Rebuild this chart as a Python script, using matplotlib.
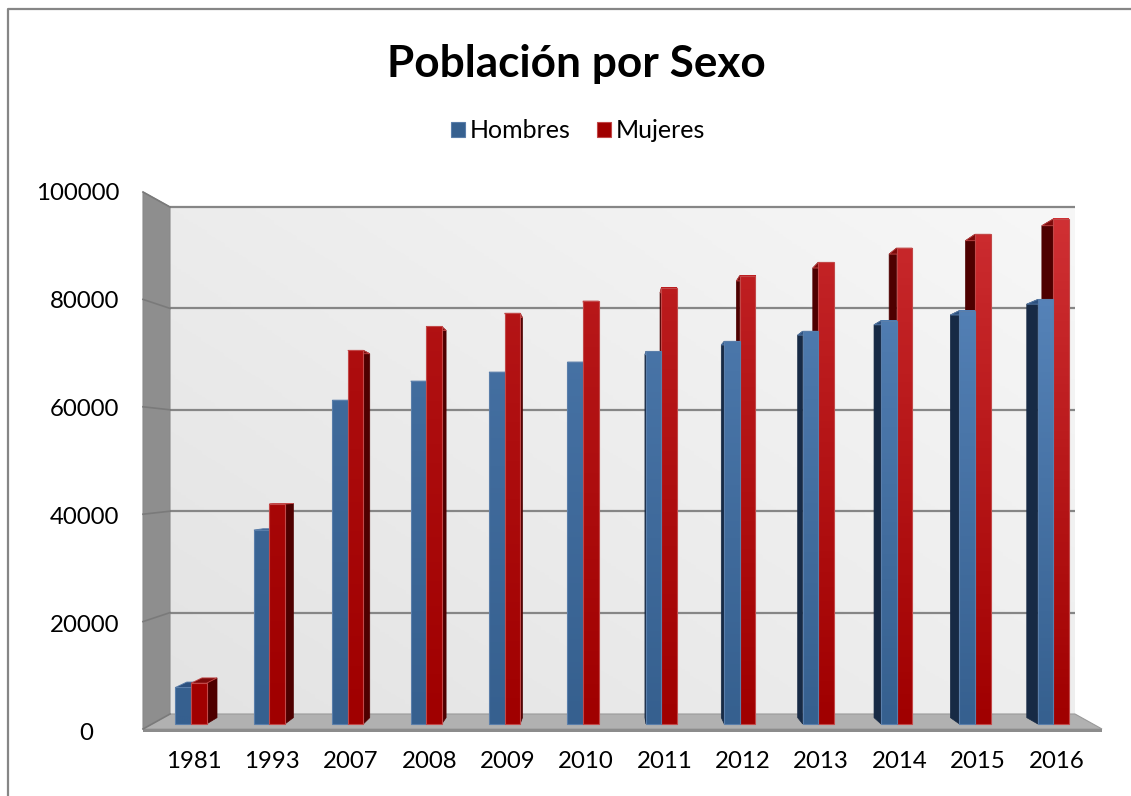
import numpy as np
import matplotlib
matplotlib.use("Agg")
import matplotlib.pyplot as plt
from matplotlib.patches import Polygon, Patch
from matplotlib.colors import LinearSegmentedColormap
import matplotlib.transforms as mtransforms

plt.rcParams['font.family'] = ['Lato', 'DejaVu Sans']

# ---------------- data ----------------
years = ['1981', '1993', '2007', '2008', '2009', '2010', '2011', '2012', '2013', '2014', '2015', '2016']
hombres = [6900, 36600, 61100, 64700, 66400, 68300, 70300, 72200, 74100, 76100, 78000, 80100]
mujeres = [7700, 41500, 70500, 75000, 77500, 79800, 82300, 84600, 87100, 89800, 92400, 95300]
series_names = ['Hombres', 'Mujeres']
y_ticks = [0, 20000, 40000, 60000, 80000, 100000]
title = 'Población por Sexo'

# ---------------- layout (pixels) ----------------
W, H = 1131, 796
PX0, DX = 191.0, 78.4          # pixel x of first category centre, px per category
PY0, SY = 724.0, 5.30          # pixel y of value 0 (bar base), px per 1000
BACK_Y0, BACK_S = 714.0, 5.07  # back wall: y of 0, px per 1000
FRONT_Y0, FRONT_S = 729.0, 5.37
WALL_L, WALL_R, WALL_T = 170, 1075, 207
LEFT_X = 143
VP = (610.0, 480.0)            # perspective vanishing point (pixels)
DEPTH = 0.026
BAR_W = 0.198
TICK_FS = 17.3

fig = plt.figure(figsize=(W / 100, H / 100), dpi=100)
fig.patch.set_facecolor('white')

bg = fig.add_axes([0, 0, 1, 1])
bg.set_xlim(0, W)
bg.set_ylim(H, 0)
bg.axis('off')

# chart border (only left and top edges are visible in the image)
bg.plot([8, 8, W + 20], [H + 20, 9, 9], color='#868686', lw=1.6, zorder=1, clip_on=False)

# back wall with soft gradient
gx = np.linspace(0, 1, 200)[None, :]
gy = np.linspace(0, 1, 200)[:, None]
grad = 0.55 * gx + 0.45 * (1 - gy)
wall_cmap = LinearSegmentedColormap.from_list('wall', ['#e3e3e3', '#f7f7f7'])
bg.imshow(grad, cmap=wall_cmap, extent=(WALL_L, WALL_R, BACK_Y0, WALL_T), origin='upper',
          aspect='auto', zorder=2, vmin=0, vmax=1)

# left wall
bg.add_patch(Polygon([(LEFT_X, FRONT_Y0 - 100 * FRONT_S), (WALL_L, WALL_T), (WALL_L, BACK_Y0),
                      (LEFT_X, FRONT_Y0)], closed=True, facecolor='#8e8e8e', edgecolor='#8a8a8a',
                     lw=0.8, zorder=3))

# floor
bg.add_patch(Polygon([(WALL_L, BACK_Y0), (WALL_R, BACK_Y0), (1102, FRONT_Y0), (LEFT_X, FRONT_Y0)],
                     closed=True, facecolor='#b1b1b1', edgecolor='#9a9a9a', lw=0.8, zorder=3))
bg.add_patch(Polygon([(LEFT_X, FRONT_Y0), (1102, FRONT_Y0), (1102, FRONT_Y0 + 2.5), (LEFT_X, FRONT_Y0 + 2.5)],
                     closed=True, facecolor='#8c8c8c', edgecolor='none', zorder=3))

# gridlines on back wall and left wall
for v in y_ticks:
    yb = BACK_Y0 - v / 1000 * BACK_S
    yf = FRONT_Y0 - v / 1000 * FRONT_S
    if v > 0:
        bg.plot([WALL_L, WALL_R], [yb, yb], color='#868686', lw=1.6, zorder=4, solid_capstyle='butt')
    bg.plot([LEFT_X, WALL_L], [yf, yb], color='#7a7a7a', lw=1.2, zorder=4)

# y tick labels
for v in y_ticks:
    yl = 733 - v * 0.00539
    xr = 93 if v == 0 else 119
    bg.text(xr, yl, str(v), ha='right', va='center', fontsize=TICK_FS, color='#000000')

# title
bg.text(576, 64, title, ha='center', va='center', fontsize=31.8, fontweight='bold', color='#000000')

# ---------------- bars ----------------
ax = fig.add_axes([0, 0, 1, 1])
ax.patch.set_alpha(0)
ax.axis('off')
xlim = (-PX0 / DX, (W - PX0) / DX)
ylim = ((PY0 - H) / SY * 1000, PY0 / SY * 1000)
ax.set_xlim(*xlim)
ax.set_ylim(*ylim)

x = np.arange(len(years))
vpx = (VP[0] - PX0) / DX
vpy = (PY0 - VP[1]) / SY * 1000

styles = {
    'Hombres': dict(base='#36608f', light='#5d8bc2', side='#172a45', top='#2c507e', edge='#5a7eaa'),
    'Mujeres': dict(base='#a00000', light='#d23236', side='#4e0000', top='#7c0a0a', edge='#c24848'),
}

bars_h = ax.bar(x - BAR_W / 2, hombres, width=BAR_W, color=styles['Hombres']['base'],
                edgecolor=styles['Hombres']['edge'], lw=0.8)
bars_m = ax.bar(x + BAR_W / 2, mujeres, width=BAR_W, color=styles['Mujeres']['base'],
                edgecolor=styles['Mujeres']['edge'], lw=0.8)


def back(px, py):
    return px + DEPTH * (vpx - px), py + DEPTH * (vpy - py)


def dress(rect, st, z, i):
    x0 = rect.get_x()
    x1 = x0 + rect.get_width()
    h = rect.get_height()
    # side face
    xs = x1 if x1 < vpx else x0
    bx0, by0 = back(xs, 0)
    bxh, byh = back(xs, h)
    ax.add_patch(Polygon([(xs, 0), (xs, h), (bxh, byh), (bx0, by0)], closed=True,
                         facecolor=st['side'], edgecolor=st['side'], lw=0.5, zorder=z))
    # top face
    a0 = back(x0, h)
    a1 = back(x1, h)
    ax.add_patch(Polygon([(x0, h), (x1, h), a1, a0], closed=True,
                         facecolor=st['top'], edgecolor=st['edge'], lw=0.6, zorder=z + 0.01))
    # front face gradient
    strength = (h / 100000) * (0.25 + 0.75 * i / (len(years) - 1))
    cmap = LinearSegmentedColormap.from_list('g', [st['base'], st['light']])
    ax.imshow(np.linspace(0, strength, 64)[:, None], cmap=cmap, vmin=0, vmax=1,
              extent=(x0, x1, 0, h), origin='lower', aspect='auto', zorder=z + 0.02)
    rect.set_facecolor('none')
    rect.set_zorder(z + 0.03)


for i in range(len(years)):
    rh, rm = bars_h[i], bars_m[i]
    if x[i] < vpx:
        dress(rh, styles['Hombres'], 5 + i * 0.1, i)
        dress(rm, styles['Mujeres'], 5 + i * 0.1 + 0.05, i)
    else:
        dress(rm, styles['Mujeres'], 5 + i * 0.1, i)
        dress(rh, styles['Hombres'], 5 + i * 0.1 + 0.05, i)

ax.set_xlim(*xlim)
ax.set_ylim(*ylim)

# x tick labels
trans = mtransforms.blended_transform_factory(ax.transData, bg.transData)
for i, lab in enumerate(years):
    ax.text(x[i] + 3 / DX, 762, lab, transform=trans, ha='center', va='center', fontsize=TICK_FS,
            color='#000000')

# legend
handles = [Patch(facecolor=styles[n]['base'], edgecolor=styles[n]['edge'], lw=0.8) for n in series_names]
fig.legend(handles, series_names, loc='center', bbox_to_anchor=(578 / W, 1 - 131 / H), ncol=2,
           frameon=False, fontsize=18, handlelength=0.56, handleheight=0.56, handletextpad=0.2,
           columnspacing=1.05, borderaxespad=0)

fig.savefig('out.png', dpi=100, facecolor='white')
